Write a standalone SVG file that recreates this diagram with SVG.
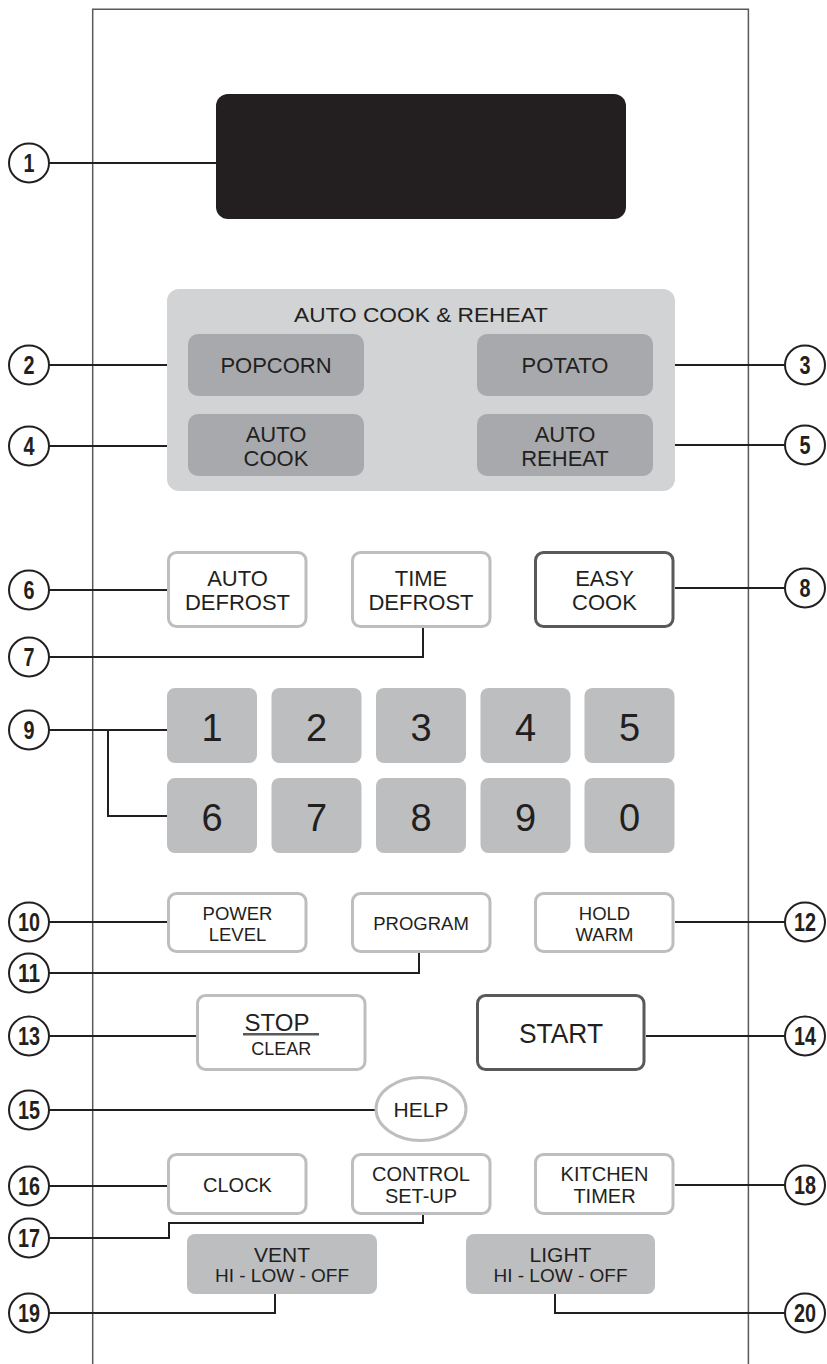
<svg xmlns="http://www.w3.org/2000/svg" width="827" height="1364" viewBox="0 0 827 1364">
<style>
.ld{stroke:#231f20;stroke-width:2;fill:none}
.cir{fill:#fff;stroke:#231f20;stroke-width:2}
.num{font-family:"Liberation Sans",Arial,sans-serif;font-weight:bold;font-size:25px;fill:#231f20;text-anchor:middle}
.lbl{font-family:"Liberation Sans",Arial,sans-serif;fill:#231f20;text-anchor:middle}
.wb{fill:#fff;stroke:#bcbec0;stroke-width:3}
.db{fill:#fff;stroke:#58595b;stroke-width:3}
.gk{fill:#bcbec0}
.dk{fill:#a7a9ac}
.f22{font-size:22px}
.f19{font-size:18.5px}
.f20{font-size:20px}
.dig{font-size:38px}
</style>
<rect width="827" height="1364" fill="#fff"/>
<g id="panel">
<path d="M92.7 1364V9.3H748.4V1364" fill="none" stroke="#58595b" stroke-width="1.5"/>
</g>
<g id="connectors">
<path class="ld" d="M49 163H216"/>
<path class="ld" d="M49 365H188"/>
<path class="ld" d="M653 365H785"/>
<path class="ld" d="M49 446H188"/>
<path class="ld" d="M653 445H785"/>
<path class="ld" d="M49 590H167"/>
<path class="ld" d="M49 657H423V628"/>
<path class="ld" d="M675 588H785"/>
<path class="ld" d="M49 730H167M108 730V816H167"/>
<path class="ld" d="M49 922H167"/>
<path class="ld" d="M49 973H419V953"/>
<path class="ld" d="M675 922H785"/>
<path class="ld" d="M49 1036H196"/>
<path class="ld" d="M646 1036H785"/>
<path class="ld" d="M49 1110H376"/>
<path class="ld" d="M49 1186H167"/>
<path class="ld" d="M49 1238H169V1223H423V1215"/>
<path class="ld" d="M675 1185H785"/>
<path class="ld" d="M49 1313H275V1294"/>
<path class="ld" d="M785 1313H555V1294"/>
</g>
<g id="display"><rect x="216" y="94" width="410" height="125" rx="12" fill="#231f20"/></g>
<g id="auto-cook-reheat">
<rect x="167" y="289" width="508" height="202" rx="12" fill="#d1d3d4"/>
<text class="lbl" x="421" y="322" font-size="21" textLength="254" lengthAdjust="spacingAndGlyphs">AUTO COOK &amp; REHEAT</text>
</g>
<g id="popcorn"><rect class="dk" x="188" y="334" width="176" height="62" rx="10"/><text class="lbl f22" x="276" y="373">POPCORN</text></g>
<g id="potato"><rect class="dk" x="477" y="334" width="176" height="62" rx="10"/><text class="lbl f22" x="565" y="373">POTATO</text></g>
<g id="auto-cook"><rect class="dk" x="188" y="414" width="176" height="62" rx="10"/><text class="lbl f22" x="276" y="442">AUTO</text><text class="lbl f22" x="276" y="466">COOK</text></g>
<g id="auto-reheat"><rect class="dk" x="477" y="414" width="176" height="62" rx="10"/><text class="lbl f22" x="565" y="442">AUTO</text><text class="lbl f22" x="565" y="466">REHEAT</text></g>
<g id="auto-defrost"><rect class="wb" x="168.5" y="552.5" width="137.5" height="74" rx="8"/><text class="lbl f22" x="237.5" y="586">AUTO</text><text class="lbl f22" x="237.5" y="610">DEFROST</text></g>
<g id="time-defrost"><rect class="wb" x="352.5" y="552.5" width="137.5" height="74" rx="8"/><text class="lbl f22" x="421" y="586">TIME</text><text class="lbl f22" x="421" y="610">DEFROST</text></g>
<g id="easy-cook"><rect class="db" x="535.5" y="552.5" width="137.5" height="74" rx="8"/><text class="lbl f22" x="604.5" y="586">EASY</text><text class="lbl f22" x="604.5" y="610">COOK</text></g>
<g id="keypad">
<g id="key-1"><rect class="gk" x="167" y="688" width="90" height="75" rx="8"/><text class="lbl dig" x="212" y="741">1</text></g>
<g id="key-2"><rect class="gk" x="271.5" y="688" width="90" height="75" rx="8"/><text class="lbl dig" x="316.5" y="741">2</text></g>
<g id="key-3"><rect class="gk" x="376" y="688" width="90" height="75" rx="8"/><text class="lbl dig" x="421" y="741">3</text></g>
<g id="key-4"><rect class="gk" x="480.5" y="688" width="90" height="75" rx="8"/><text class="lbl dig" x="525.5" y="741">4</text></g>
<g id="key-5"><rect class="gk" x="584.5" y="688" width="90" height="75" rx="8"/><text class="lbl dig" x="629.5" y="741">5</text></g>
<g id="key-6"><rect class="gk" x="167" y="778" width="90" height="75" rx="8"/><text class="lbl dig" x="212" y="831">6</text></g>
<g id="key-7"><rect class="gk" x="271.5" y="778" width="90" height="75" rx="8"/><text class="lbl dig" x="316.5" y="831">7</text></g>
<g id="key-8"><rect class="gk" x="376" y="778" width="90" height="75" rx="8"/><text class="lbl dig" x="421" y="831">8</text></g>
<g id="key-9"><rect class="gk" x="480.5" y="778" width="90" height="75" rx="8"/><text class="lbl dig" x="525.5" y="831">9</text></g>
<g id="key-0"><rect class="gk" x="584.5" y="778" width="90" height="75" rx="8"/><text class="lbl dig" x="629.5" y="831">0</text></g>
</g>
<g id="power-level"><rect class="wb" x="168.5" y="893.5" width="137.5" height="58" rx="8"/><text class="lbl f19" x="237.5" y="920">POWER</text><text class="lbl f19" x="237.5" y="941">LEVEL</text></g>
<g id="program"><rect class="wb" x="352.5" y="893.5" width="137.5" height="58" rx="8"/><text class="lbl f19" x="421" y="930">PROGRAM</text></g>
<g id="hold-warm"><rect class="wb" x="535.5" y="893.5" width="137.5" height="58" rx="8"/><text class="lbl f19" x="604.5" y="920">HOLD</text><text class="lbl f19" x="604.5" y="941">WARM</text></g>
<g id="stop-clear"><rect class="wb" x="197.5" y="995.5" width="167.5" height="74" rx="8"/><text class="lbl" x="277" y="1031" font-size="24">STOP</text><rect x="243" y="1033" width="76" height="2.5" fill="#58595b"/><text class="lbl" x="281.3" y="1055" font-size="18">CLEAR</text></g>
<g id="start"><rect class="db" x="477.5" y="995.5" width="166.5" height="74" rx="8"/><text class="lbl" x="561" y="1043" font-size="28" textLength="84" lengthAdjust="spacingAndGlyphs">START</text></g>
<g id="help"><ellipse cx="421" cy="1109" rx="45" ry="31.5" fill="#fff" stroke="#bcbec0" stroke-width="3"/><text class="lbl" x="421" y="1117" font-size="21">HELP</text></g>
<g id="clock"><rect class="wb" x="168.5" y="1154.5" width="137.5" height="59" rx="8"/><text class="lbl f20" x="237.5" y="1192">CLOCK</text></g>
<g id="control-setup"><rect class="wb" x="352.5" y="1154.5" width="137.5" height="59" rx="8"/><text class="lbl f20" x="421" y="1181">CONTROL</text><text class="lbl f20" x="421" y="1203">SET-UP</text></g>
<g id="kitchen-timer"><rect class="wb" x="535.5" y="1154.5" width="137.5" height="59" rx="8"/><text class="lbl f20" x="604.5" y="1181">KITCHEN</text><text class="lbl f20" x="604.5" y="1203">TIMER</text></g>
<g id="vent"><rect class="gk" x="187" y="1234" width="190" height="60" rx="8"/><text class="lbl" x="282" y="1262" font-size="21">VENT</text><text class="lbl" x="282" y="1282" font-size="19">HI - LOW - OFF</text></g>
<g id="light"><rect class="gk" x="466" y="1234" width="189" height="60" rx="8"/><text class="lbl" x="560.5" y="1262" font-size="21">LIGHT</text><text class="lbl" x="560.5" y="1282" font-size="19">HI - LOW - OFF</text></g>
<g id="callouts">
<g id="c1"><ellipse class="cir" cx="29" cy="163" rx="20" ry="19.5"/><text class="num" x="29" y="172" textLength="11" lengthAdjust="spacingAndGlyphs">1</text></g>
<g id="c2"><ellipse class="cir" cx="29" cy="365" rx="20" ry="19.5"/><text class="num" x="29" y="374" textLength="11" lengthAdjust="spacingAndGlyphs">2</text></g>
<g id="c3"><ellipse class="cir" cx="805" cy="365" rx="20" ry="19.5"/><text class="num" x="805" y="374" textLength="11" lengthAdjust="spacingAndGlyphs">3</text></g>
<g id="c4"><ellipse class="cir" cx="29" cy="446" rx="20" ry="19.5"/><text class="num" x="29" y="455" textLength="11" lengthAdjust="spacingAndGlyphs">4</text></g>
<g id="c5"><ellipse class="cir" cx="805" cy="445" rx="20" ry="19.5"/><text class="num" x="805" y="454" textLength="11" lengthAdjust="spacingAndGlyphs">5</text></g>
<g id="c6"><ellipse class="cir" cx="29" cy="590" rx="20" ry="19.5"/><text class="num" x="29" y="599" textLength="11" lengthAdjust="spacingAndGlyphs">6</text></g>
<g id="c7"><ellipse class="cir" cx="29" cy="657" rx="20" ry="19.5"/><text class="num" x="29" y="666" textLength="11" lengthAdjust="spacingAndGlyphs">7</text></g>
<g id="c8"><ellipse class="cir" cx="805" cy="588" rx="20" ry="19.5"/><text class="num" x="805" y="597" textLength="11" lengthAdjust="spacingAndGlyphs">8</text></g>
<g id="c9"><ellipse class="cir" cx="29" cy="730" rx="20" ry="19.5"/><text class="num" x="29" y="739" textLength="11" lengthAdjust="spacingAndGlyphs">9</text></g>
<g id="c10"><ellipse class="cir" cx="29" cy="922" rx="20" ry="19.5"/><text class="num" x="29" y="931" textLength="22" lengthAdjust="spacingAndGlyphs">10</text></g>
<g id="c11"><ellipse class="cir" cx="29" cy="973" rx="20" ry="19.5"/><text class="num" x="29" y="982" textLength="22" lengthAdjust="spacingAndGlyphs">11</text></g>
<g id="c12"><ellipse class="cir" cx="805" cy="922" rx="20" ry="19.5"/><text class="num" x="805" y="931" textLength="22" lengthAdjust="spacingAndGlyphs">12</text></g>
<g id="c13"><ellipse class="cir" cx="29" cy="1036" rx="20" ry="19.5"/><text class="num" x="29" y="1045" textLength="22" lengthAdjust="spacingAndGlyphs">13</text></g>
<g id="c14"><ellipse class="cir" cx="805" cy="1036" rx="20" ry="19.5"/><text class="num" x="805" y="1045" textLength="22" lengthAdjust="spacingAndGlyphs">14</text></g>
<g id="c15"><ellipse class="cir" cx="29" cy="1110" rx="20" ry="19.5"/><text class="num" x="29" y="1119" textLength="22" lengthAdjust="spacingAndGlyphs">15</text></g>
<g id="c16"><ellipse class="cir" cx="29" cy="1186" rx="20" ry="19.5"/><text class="num" x="29" y="1195" textLength="22" lengthAdjust="spacingAndGlyphs">16</text></g>
<g id="c17"><ellipse class="cir" cx="29" cy="1238" rx="20" ry="19.5"/><text class="num" x="29" y="1247" textLength="22" lengthAdjust="spacingAndGlyphs">17</text></g>
<g id="c18"><ellipse class="cir" cx="805" cy="1185" rx="20" ry="19.5"/><text class="num" x="805" y="1194" textLength="22" lengthAdjust="spacingAndGlyphs">18</text></g>
<g id="c19"><ellipse class="cir" cx="29" cy="1313" rx="20" ry="19.5"/><text class="num" x="29" y="1322" textLength="22" lengthAdjust="spacingAndGlyphs">19</text></g>
<g id="c20"><ellipse class="cir" cx="805" cy="1313" rx="20" ry="19.5"/><text class="num" x="805" y="1322" textLength="22" lengthAdjust="spacingAndGlyphs">20</text></g>
</g>
</svg>
